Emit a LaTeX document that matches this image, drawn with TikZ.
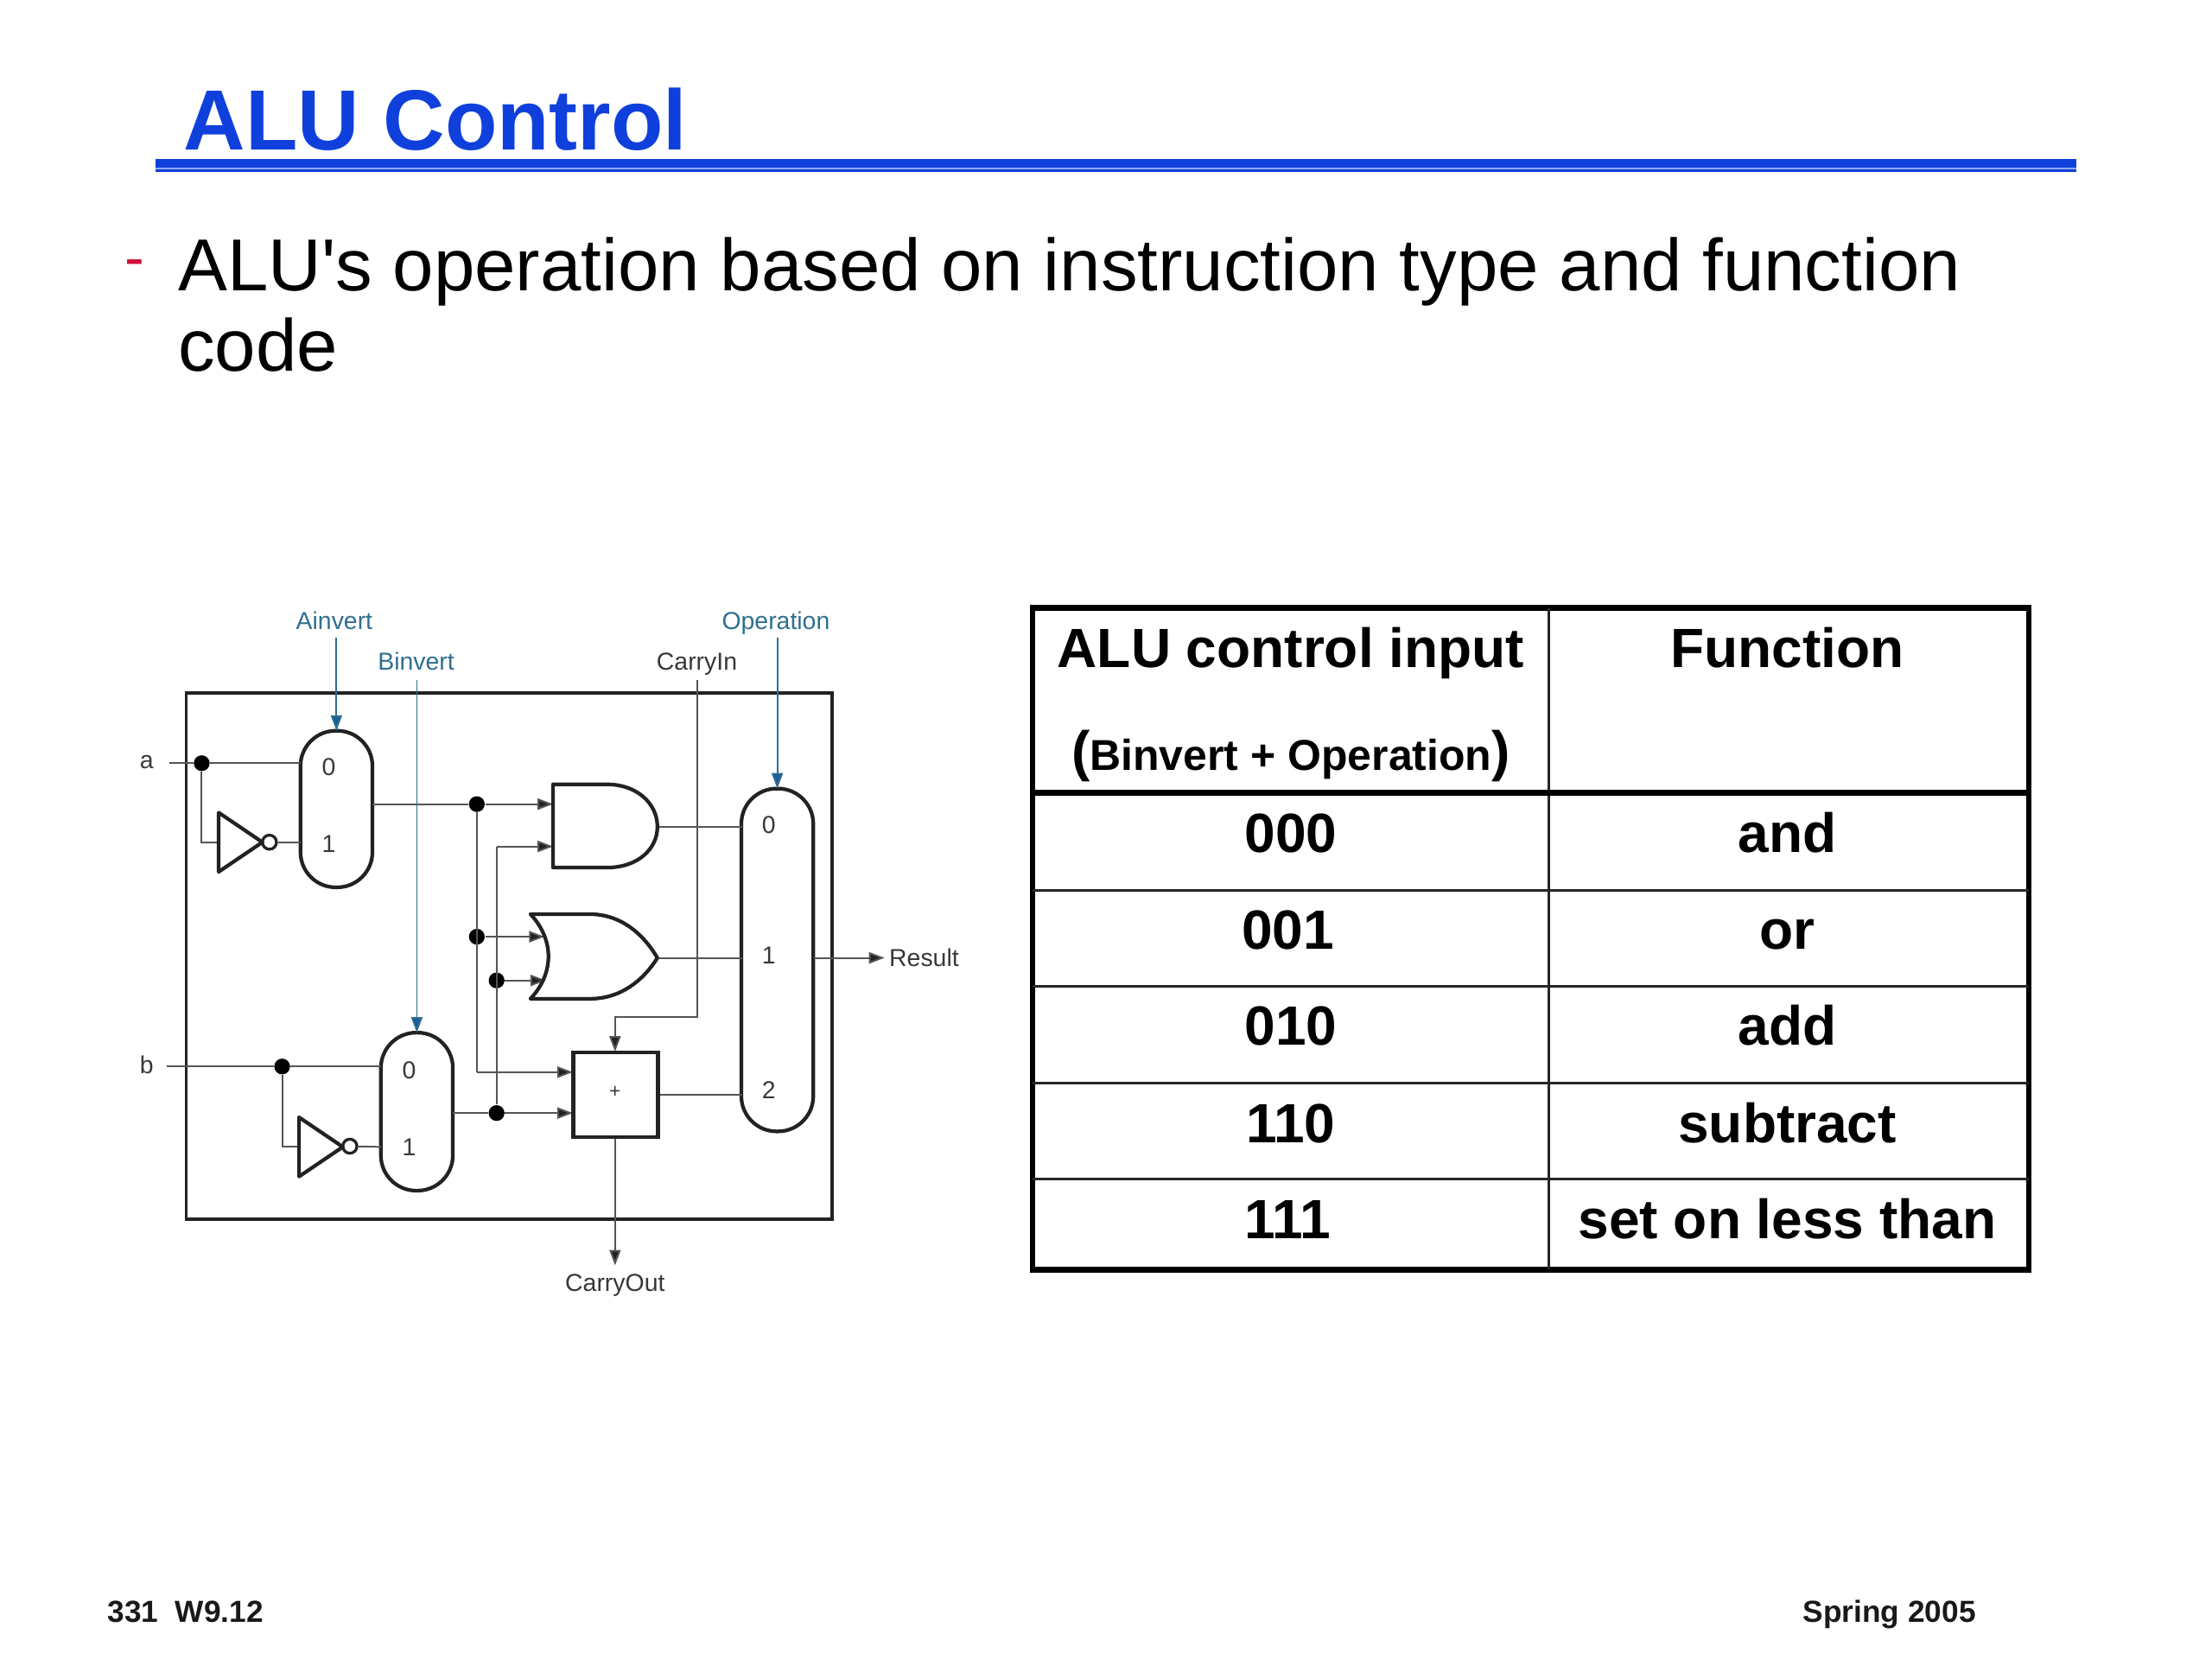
\documentclass[tikz,border=0pt]{standalone}
\usepackage{fontspec}
\setmainfont{Liberation Sans}
\newfontfamily\plainsans{Liberation Sans}
\usetikzlibrary{arrows.meta}
\definecolor{ttl}{HTML}{1040DC}
\definecolor{ctl}{HTML}{2F6F8F}
\definecolor{ctlhead}{HTML}{1B5F96}
\definecolor{wire}{HTML}{555555}
\definecolor{shp}{HTML}{222222}
\definecolor{lbl}{HTML}{383838}
\definecolor{dashred}{HTML}{D0103A}
\tikzset{
  wirepath/.style={draw=wire,line width=0.6pt},
  ctlwire/.style={draw=ctl,line width=0.55pt,-{Triangle[length=5.5pt,width=4pt,fill=ctlhead]}},
  arrowwire/.style={wirepath,-{Triangle[length=5.5pt,width=4pt,fill=shp]}},
  gate/.style={draw=shp,line width=1.3pt,line join=round},
  muxbox/.style={draw=shp,line width=1.3pt,rounded corners=12.5pt,minimum width=25.5pt,inner sep=0pt,outer sep=0pt,fill=white},
  dotnode/.style={circle,fill=black,inner sep=0pt,minimum size=5.6pt},
  bubble/.style={circle,draw=shp,line width=1.0pt,inner sep=0pt,minimum size=5pt,fill=white},
  lab/.style={text=lbl,font=\fontsize{8.7pt}{10pt}\selectfont,inner sep=0pt},
  ctllab/.style={text=ctl,font=\fontsize{8.7pt}{10pt}\selectfont,inner sep=0pt},
  cell/.style={font=\fontsize{19.6pt}{24pt}\selectfont\bfseries,anchor=base,inner sep=0pt,text=black},
  thinrule/.style={draw=black!85,line width=0.9pt},
  thickrule/.style={draw=black,line width=2pt},
  foot/.style={font=\fontsize{10.8pt}{13pt}\selectfont\bfseries,anchor=base,inner sep=0pt,text=black!90}
}
\begin{document}
\begin{tikzpicture}[x=0.5pt,y=-0.5pt]
\useasboundingbox (0,0) rectangle (1568,1176);
% title
\node[anchor=base west,inner sep=0pt,text=ttl,font=\fontsize{30.3pt}{36pt}\selectfont\bfseries] (title) at (130,106.5) {ALU Control};
\fill[ttl] (110,113) rectangle (1472,118.6);
\fill[ttl!45] (110,118.6) rectangle (1472,120);
\fill[ttl] (110,120) rectangle (1472,122);
% body
\node[anchor=base west,inner sep=0pt,text=dashred,font=\fontsize{21pt}{24pt}\selectfont] (bul) at (88,197) {-};
\node[anchor=base west,inner sep=0pt,font=\plainsans\fontsize{26.1pt}{32pt}\selectfont] (l1) at (126,206) {ALU's operation based on instruction type and function};
\node[anchor=base west,inner sep=0pt,font=\plainsans\fontsize{26.1pt}{32pt}\selectfont] (l2) at (126,263) {code};
% outer box
\node[draw=shp,line width=1.2pt,minimum width=229pt,minimum height=186.5pt,inner sep=0pt,outer sep=0pt,anchor=north west] (frame) at (132,491) {};
% labels
\node[ctllab] (ainv) at (237,440) {Ainvert};
\node[ctllab] (binv) at (295,469) {Binvert};
\node[lab] (cin) at (494,471) {CarryIn};
\node[ctllab] (oper) at (550,442) {Operation};
\node[lab] (lba) at (104,540) {a};
\node[lab] (lbb) at (104,755) {b};
\node[lab,anchor=west] (res) at (630,679) {Result};
\node[lab] (cout) at (436,911) {CarryOut};
% muxes
\node[muxbox,minimum height=55.5pt] (muxa) at (238.5,573.5) {};
\node[muxbox,minimum height=56pt] (muxb) at (295.5,788) {};
\node[muxbox,minimum height=121.5pt] (muxr) at (551,680.5) {};
\foreach \n/\x/\y/\t in {ma0/233/544/0,ma1/233/598/1,mb0/290/759/0,mb1/290/813/1,mr0/545/585/0,mr1/545/677/1,mr2/545/773/2}
  \node[lab] (\n) at (\x,\y) {\t};
% pin coordinates
\coordinate (aIn) at (120,541);
\coordinate (aM0) at (213,541);
\coordinate (aM1) at (213,597);
\coordinate (aOut) at (264,570);
\coordinate (aInvIn) at (155,597);
\coordinate (bIn) at (118,756);
\coordinate (bM0) at (270,756);
\coordinate (bM1) at (270,813);
\coordinate (bOut) at (321,789);
\coordinate (bInvIn) at (212,813);
\coordinate (andA) at (392,570);
\coordinate (andB) at (392,600);
\coordinate (andOut) at (466,586);
\coordinate (orA) at (386,664);
\coordinate (orB) at (387,695);
\coordinate (orOut) at (466,679);
\coordinate (addA) at (406,760);
\coordinate (addB) at (406,789);
\coordinate (addC) at (436,745.5);
\coordinate (addOut) at (467,776);
\coordinate (addDown) at (436,806);
\coordinate (r0) at (526,586);
\coordinate (r1) at (526,679);
\coordinate (r2) at (526,776);
\coordinate (rOut) at (577,679);
\coordinate (resEnd) at (627,679);
\coordinate (coutEnd) at (436,897);
\coordinate (ainvTop) at (238.5,452);
\coordinate (binvTop) at (295.5,482);
\coordinate (cinTop) at (494,482);
\coordinate (operTop) at (551,452);
\coordinate (cinBend) at (494,721);
\coordinate (cinBend2) at (436,721);
% dots
\node[dotnode] (da) at (143,541) {};
\node[dotnode] (db) at (200,756) {};
\node[dotnode] (d1) at (338,570) {};
\node[dotnode] (d2) at (338,664) {};
\node[dotnode] (d3) at (352,695) {};
\node[dotnode] (d4) at (352,789) {};
\coordinate (v1) at (338,760);
\coordinate (v2) at (352,600);
% wires
\draw[wirepath] (aIn) -- (da) -- (aM0);
\draw[wirepath] (da) |- (aInvIn);
\draw[wirepath] (bIn) -- (db) -- (bM0);
\draw[wirepath] (db) |- (bInvIn);
\draw[wirepath] (aOut) -- (d1);
\draw[arrowwire] (d1) -- (andA);
\draw[wirepath] (d1) -- (v1);
\draw[arrowwire] (v1) -- (addA);
\draw[arrowwire] (d2) -- (orA);
\draw[wirepath] (v2) -- (d4);
\draw[arrowwire] (v2) -- (andB);
\draw[arrowwire] (d3) -- (orB);
\draw[wirepath] (bOut) -- (d4);
\draw[arrowwire] (d4) -- (addB);
\draw[wirepath] (andOut) -- (r0);
\draw[wirepath] (orOut) -- (r1);
\draw[wirepath] (addOut) -- (r2);
\draw[arrowwire] (rOut) -- (resEnd);
\draw[arrowwire] (addDown) -- (coutEnd);
\draw[arrowwire] (cinTop) -- (cinBend) -- (cinBend2) -- (addC);
\draw[ctlwire] (ainvTop) -- (muxa.north);
\draw[ctlwire] (binvTop) -- (muxb.north);
\draw[ctlwire] (operTop) -- (muxr.north);
% inverters
\node[bubble] (ba) at (191,597) {};
\node[bubble] (bb) at (248,812.5) {};
\draw[gate] (155,576) -- (186,597) -- (155,618) -- cycle;
\draw[gate] (212,792) -- (243,813) -- (212,834) -- cycle;
\draw[wirepath] (ba) -- (aM1);
\draw[wirepath] (bb) -- (bM1);
% AND gate
\draw[gate] (392,556) -- (430,556) .. controls (452,556) and (466,570) .. (andOut) .. controls (466,602) and (452,615) .. (430,615) -- (392,615) -- cycle;
% OR gate
\draw[gate] (376,648) -- (418,648) .. controls (440,648) and (456,662) .. (orOut) .. controls (456,695) and (440,708) .. (418,708) -- (376,708) .. controls (393,690) and (393,666) .. (376,648) -- cycle;
% adder
\node[draw=shp,line width=1.4pt,minimum width=30pt,minimum height=30pt,inner sep=0pt,outer sep=0pt] (adder) at (436.5,776) {};
\node[lab,font=\fontsize{7pt}{8pt}\selectfont] (plus) at (436,774) {+};
% table
\draw[thickrule] (732,431) rectangle (1438,900);
\draw[thinrule] (1098,431) -- (1098,900);
\draw[thickrule] (732,562) -- (1438,562);
\foreach \y in {631,699,768,836} \draw[thinrule] (732,\y) -- (1438,\y);
\node[cell] (h1) at (915,473) {ALU control input};
\node[cell] (h2) at (1267,473) {Function};
\node[cell,font=\fontsize{15.3pt}{20pt}\selectfont\bfseries] (h3) at (915,546) {{\fontsize{19.6pt}{24pt}\selectfont(}Binvert + Operation{\fontsize{19.6pt}{24pt}\selectfont)}};
\node[cell] (c1) at (915,604) {000};
\node[cell] (c2) at (913,673) {001};
\node[cell] (c3) at (915,741) {010};
\node[cell] (c4) at (915,810) {110};
\node[cell] (c5) at (913,878) {111};
\node[cell] (f1) at (1267,604) {and};
\node[cell] (f2) at (1267,673) {or};
\node[cell] (f3) at (1267,741) {add};
\node[cell] (f4) at (1267,810) {subtract};
\node[cell] (f5) at (1267,878) {set on less than};
% footer
\node[foot,anchor=base west] (fl) at (76,1150) {331\hspace{0.55em}W9.12};
\node[foot,anchor=base east] (fr) at (1401,1150) {Spring 2005};
\end{tikzpicture}
\end{document}
